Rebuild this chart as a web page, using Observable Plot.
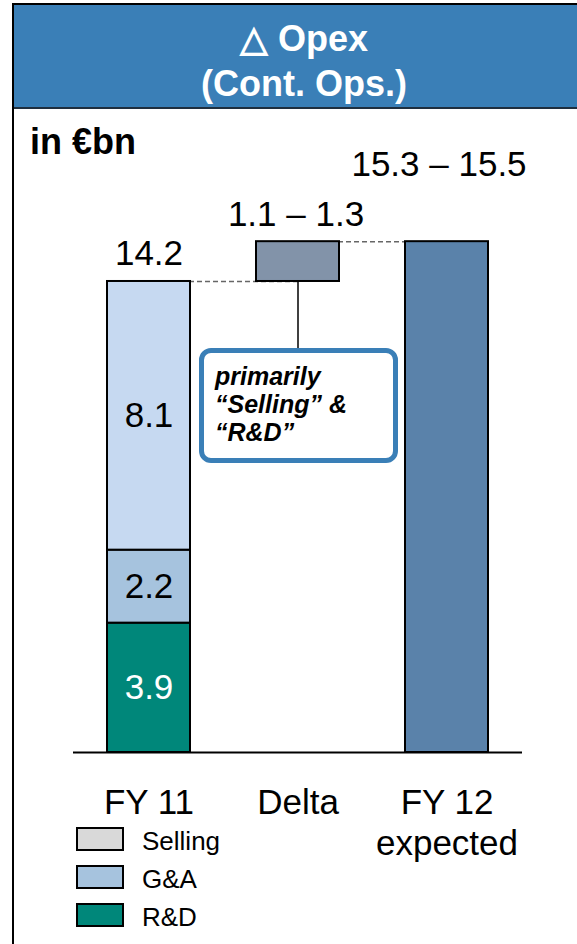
<!DOCTYPE html>
<html>
<head>
<meta charset="utf-8">
<script src="https://cdn.jsdelivr.net/npm/d3@7"></script>
<script src="https://cdn.jsdelivr.net/npm/@observablehq/plot@0.6"></script>
<style>
  html, body { margin: 0; padding: 0; background: #fff; }
  body { width: 577px; height: 944px; overflow: hidden; font-family: "Liberation Sans", Arial, Helvetica, sans-serif; }
  #wrap { position: relative; width: 577px; height: 944px; overflow: hidden; }
  #frame { position: absolute; left: 12px; top: 3px; width: 600px; height: 960px; border-left: 2px solid #000; border-top: 2px solid #000; box-sizing: border-box; }
  #header { position: absolute; left: 14px; top: 5px; width: 600px; height: 102px; background: #3a7fb7; border-bottom: 2px solid #1f2f3f; box-sizing: content-box; }
  #header .t { position: absolute; left: 0; width: 580px; text-align: center; color: #fff; font-weight: bold; font-size: 36px; line-height: 45px; }
  #unit { position: absolute; left: 30px; top: 124px; font-weight: bold; font-size: 36px; line-height: 36px; color: #000; }
  #chart { position: absolute; left: 0; top: 108px; }
  #callout { position: absolute; left: 199px; top: 348px; width: 199px; height: 115px; box-sizing: border-box; border: 5px solid #3a7fb7; border-radius: 12px; background: #fff; padding: 9px 0 0 11px; font-weight: bold; font-style: italic; font-size: 25px; line-height: 28px; color: #000; }
  .lg-sw { position: absolute; left: 76px; width: 48px; height: 24px; box-sizing: border-box; border: 2px solid #000; }
  .lg-tx { position: absolute; left: 142px; font-size: 26px; line-height: 26px; color: #000; }
</style>
</head>
<body>
<div id="wrap">
  <div id="frame"></div>
  <div id="header">
    <div class="t" id="t1" style="top:11px"></div>
    <div class="t" id="t2" style="top:56px"></div>
  </div>
  <div id="chart"></div>
  <div id="unit"></div>
  <div id="callout"></div>
  <div id="legend"></div>
</div>
<script>
// ---- data ----
const titleLines = ["△ Opex", "(Cont. Ops.)"];
const unitLabel = "in €bn";
const categories = ["FY 11", "Delta", "FY 12"];
const categoryLabels = ["FY 11", "Delta", "FY 12\nexpected"];
const segments = ["Selling", "G&A", "R&D"];
const fy11Values = [8.1, 2.2, 3.9];
const fy11Total = 14.2;
const deltaRange = [1.1, 1.3];
const fy12Range = [15.3, 15.5];
const calloutLines = ["primarily", "“Selling” &", "“R&D”"];
const legendItems = ["Selling", "G&A", "R&D"];

// ---- styles ----
const segColor = { "Selling": "#c6d9f1", "G&A": "#a6c3de", "R&D": "#00877a" };
const legendColor = { "Selling": "#d9d9d9", "G&A": "#a6c3de", "R&D": "#00877a" };
const deltaColor = "#8293a9";
const fy12Color = "#5a82aa";

// ---- derived ----
const stackOrder = ["R&D", "G&A", "Selling"];
let acc = 0;
const fy11Rows = stackOrder.map(s => {
  const v = fy11Values[segments.indexOf(s)];
  const r = { cat: categories[0], seg: s, y1: acc, y2: acc + v, v };
  acc += v;
  return r;
});
const deltaMid = (deltaRange[0] + deltaRange[1]) / 2;
const fy12Mid = (fy12Range[0] + fy12Range[1]) / 2;
const deltaRow = { cat: categories[1], y1: fy11Total, y2: fy11Total + deltaMid };
const fy12Row = { cat: categories[2], y1: 0, y2: fy12Mid };

// ---- layout ----
const W = 577, H = 836;
const baseY = 644, pxPerUnit = 33.17, yMax = 19;
const calloutTopPx = 348 - 108; // callout box top in svg coords
const calloutTopValue = (baseY - calloutTopPx) / pxPerUnit;

document.getElementById("t1").textContent = titleLines[0];
document.getElementById("t2").textContent = titleLines[1];
document.getElementById("unit").textContent = unitLabel;
document.getElementById("callout").innerHTML = calloutLines.map(l => `<div>${l}</div>`).join("");

const labelOf = new Map(categories.map((c, i) => [c, categoryLabels[i]]));

const chart = Plot.plot({
  width: W,
  height: H,
  marginLeft: 73,
  marginRight: 55,
  marginTop: 0,
  marginBottom: H - baseY,
  style: { fontFamily: "'Liberation Sans', Arial, Helvetica, sans-serif", background: "transparent", color: "#000" },
  x: { domain: categories, paddingInner: 0.445, paddingOuter: 0.2225, axis: null },
  y: { domain: [0, yMax], range: [baseY, baseY - yMax * pxPerUnit], axis: null },
  marks: [
    // dashed connectors
    Plot.link([
      { x1: categories[0], x2: categories[1], y: fy11Total },
      { x1: categories[1], x2: categories[2], y: deltaRow.y2 }
    ], { x1: "x1", x2: "x2", y1: "y", y2: "y", stroke: "#666", strokeWidth: 1.5, strokeDasharray: "5,3" }),
    // callout connector
    Plot.ruleX([{ cat: categories[1], y1: calloutTopValue, y2: fy11Total }], { x: "cat", y1: "y1", y2: "y2", stroke: "#000", strokeWidth: 1.5 }),
    // FY11 stack
    ...fy11Rows.map(r => Plot.barY([r], { x: "cat", y1: "y1", y2: "y2", fill: segColor[r.seg], stroke: "#000", strokeWidth: 2 })),
    // delta
    Plot.barY([deltaRow], { x: "cat", y1: "y1", y2: "y2", fill: deltaColor, stroke: "#000", strokeWidth: 2 }),
    // FY12
    Plot.barY([fy12Row], { x: "cat", y1: "y1", y2: "y2", fill: fy12Color, stroke: "#000", strokeWidth: 2 }),
    // baseline
    Plot.ruleY([0], { stroke: "#000", strokeWidth: 2 }),
    // segment labels
    Plot.text(fy11Rows.filter(r => r.seg !== "R&D"), { x: "cat", y: d => (d.y1 + d.y2) / 2, text: d => d.v.toFixed(1), fontSize: 35, fill: "#000", lineAnchor: "middle" }),
    Plot.text(fy11Rows.filter(r => r.seg === "R&D"), { x: "cat", y: d => (d.y1 + d.y2) / 2, text: d => d.v.toFixed(1), fontSize: 35, fill: "#fff", lineAnchor: "middle" }),
    // top labels
    Plot.text([{ cat: categories[0], y: fy11Total, t: fy11Total.toFixed(1) }], { x: "cat", y: "y", text: "t", fontSize: 35, lineAnchor: "bottom", dy: -16, fill: "#000" }),
    Plot.text([{ cat: categories[1], y: deltaRow.y2, t: `${deltaRange[0].toFixed(1)} – ${deltaRange[1].toFixed(1)}` }], { x: "cat", y: "y", text: "t", fontSize: 35, lineAnchor: "bottom", dy: -16, dx: -2, fill: "#000" }),
    Plot.text([{ cat: categories[2], y: fy12Row.y2, t: `${fy12Range[0].toFixed(1)} – ${fy12Range[1].toFixed(1)}` }], { x: "cat", y: "y", text: "t", fontSize: 35, lineAnchor: "bottom", dy: -66, dx: -8, fill: "#000" }),
    // category axis
    Plot.axisX({ tickSize: 0, tickPadding: 32, fontSize: 35, lineHeight: 1.17, tickFormat: d => labelOf.get(d), fill: "#000" })
  ]
});
document.getElementById("chart").appendChild(chart);

// legend
const tops = [827, 865, 903];
const lg = document.getElementById("legend");
legendItems.forEach((s, i) => {
  const sw = document.createElement("div");
  sw.className = "lg-sw";
  sw.style.top = tops[i] + "px";
  sw.style.background = legendColor[s];
  lg.appendChild(sw);
  const tx = document.createElement("div");
  tx.className = "lg-tx";
  tx.style.top = (tops[i] + 1) + "px";
  tx.textContent = s;
  lg.appendChild(tx);
});
</script>
</body>
</html>
